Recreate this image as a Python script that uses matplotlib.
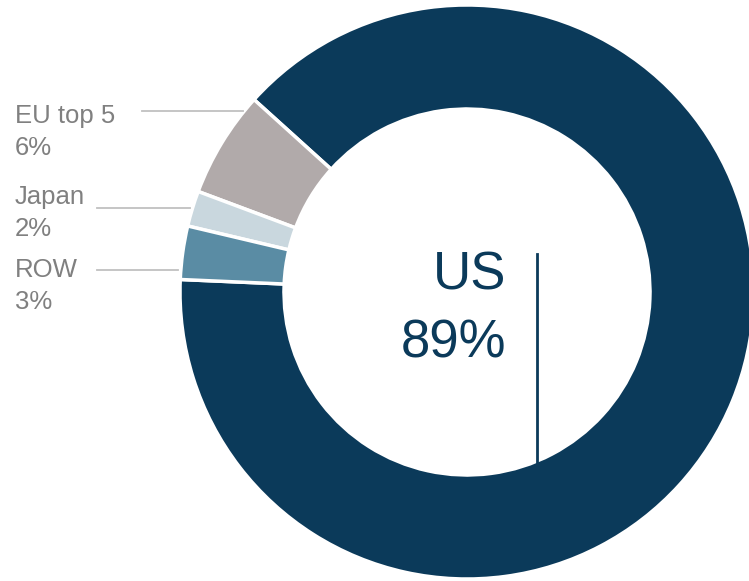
import matplotlib.pyplot as plt

plt.rcParams['font.family'] = ['Liberation Sans', 'DejaVu Sans']

labels = ["US", "EU top 5", "Japan", "ROW"]
shares = [89, 6, 2, 3]
colors = ["#0b3a5a", "#b1aaaa", "#c9d7de", "#5a8ca4"]

W, H = 749, 581
fig = plt.figure(figsize=(W / 100, H / 100), dpi=100)
ax = fig.add_axes([0, 0, 1, 1])

cx, cy, r = 467, H - 292, 287
ax.pie(shares, colors=colors, startangle=177.5, counterclock=True,
       center=(cx, cy), radius=r, frame=True,
       wedgeprops=dict(width=104, edgecolor="white", linewidth=2.5))
ax.set_xlim(0, W)
ax.set_ylim(0, H)
ax.axis("off")

# side labels with leader lines
gray = "#808080"
side = [("EU top 5", shares[1], 132, 111, 142, 243),
        ("Japan", shares[2], 213, 208, 97, 190),
        ("ROW", shares[3], 286, 270, 97, 178)]
for name, val, ty, ly, x0, x1 in side:
    ax.text(15, H - ty, f"{name}\n{val}%", color=gray, fontsize=18.5,
            ha="left", va="center", linespacing=1.38)
    ax.plot([x0, x1], [H - ly, H - ly], color="#c0c0c0", lw=1.3)

# center label
ax.text(506, H - 290, "US", color="#0b3a5a", fontsize=38, ha="right", va="baseline")
ax.text(506, H - 357, f"{shares[0]}%", color="#0b3a5a", fontsize=38, ha="right", va="baseline")
ax.plot([537, 537], [H - 254, H - 462], color="#0b3a5a", lw=2)

fig.savefig("out.png", dpi=100)
